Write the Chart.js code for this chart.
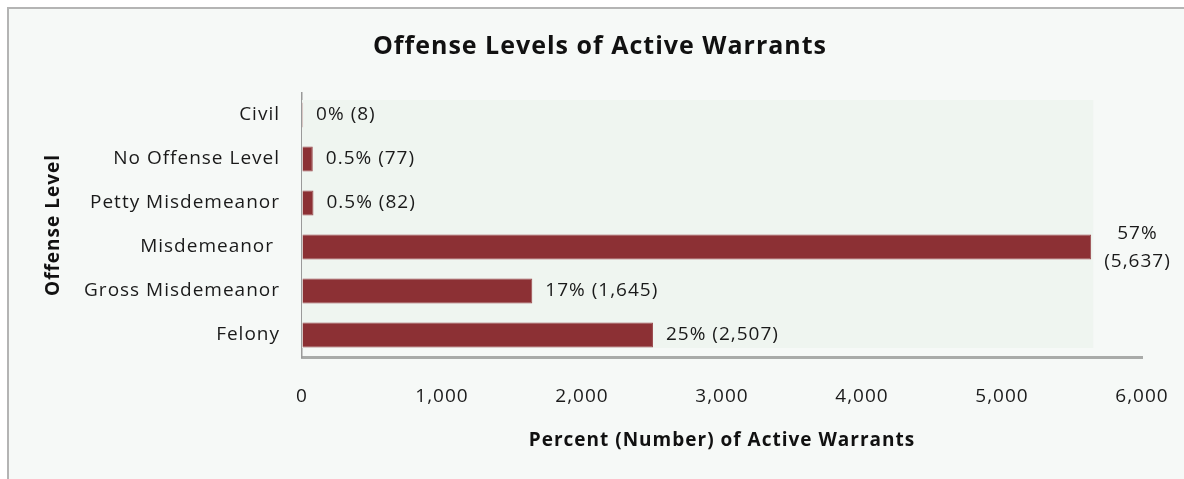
<!DOCTYPE html>
<html>
<head>
<meta charset="utf-8">
<title>Offense Levels of Active Warrants</title>
<script src="https://cdn.jsdelivr.net/npm/chart.js@4/dist/chart.umd.min.js"></script>
<style>
  html, body { margin: 0; padding: 0; background: #ffffff; }
  #wrap { width: 1184px; height: 479px; }
</style>
</head>
<body>
<div id="wrap"><canvas id="warrantChart" width="1184" height="479"></canvas></div>
<script>
// Dados
const categories = ['Civil', 'No Offense Level', 'Petty Misdemeanor', 'Misdemeanor ', 'Gross Misdemeanor', 'Felony'];
const warrantCounts = [8, 77, 82, 5637, 1645, 2507];
const percentLabels = ['0%', '0.5%', '0.5%', '57%', '17%', '25%'];
const xMin = 0;
const xMax = 6000;
const xStep = 1000;

const FONT = "'Open Sans', 'DejaVu Sans', sans-serif";
const TEXT = '#1a1a1a';

// espaçamento entre letras um pouco maior (fonte original é mais larga)
const spacingPlugin = {
    id: 'spacing',
    beforeLayout(chart) { chart.ctx.letterSpacing = '1px'; },
    beforeDraw(chart) { chart.ctx.letterSpacing = '1px'; }
};

// fundo com moldura cinza
const framePlugin = {
    id: 'frame',
    beforeDraw(chart) {
        const { ctx, width, height } = chart;
        ctx.save();
        ctx.fillStyle = '#ffffff';
        ctx.fillRect(0, 0, width, height);
        ctx.fillStyle = '#f6f9f7';
        ctx.fillRect(8, 8, width, height);
        ctx.strokeStyle = '#b4b4b4';
        ctx.lineWidth = 2;
        ctx.beginPath();
        ctx.moveTo(8, height + 2);
        ctx.lineTo(8, 8);
        ctx.lineTo(width + 2, 8);
        ctx.stroke();
        ctx.restore();
    },
    beforeDatasetsDraw(chart) {
        // painel interno levemente mais escuro
        const { ctx, chartArea: a } = chart;
        ctx.save();
        ctx.fillStyle = '#eff5f0';
        ctx.fillRect(a.left, a.top + 7, a.width * 0.942, a.height - 16);
        ctx.restore();
    }
};

// rótulos "percentual (número)" após cada barra
const valueLabels = {
    id: 'valueLabels',
    afterDatasetsDraw(chart) {
        const { ctx } = chart;
        const bars = chart.getDatasetMeta(0).data;
        ctx.save();
        ctx.font = '19px ' + FONT;
        ctx.fillStyle = TEXT;
        ctx.textBaseline = 'middle';
        bars.forEach((bar, i) => {
            const count = warrantCounts[i].toLocaleString('en-US');
            const oneLine = percentLabels[i] + ' (' + count + ')';
            const x = bar.x + 13;
            if (x + ctx.measureText(oneLine).width < chart.width - 4) {
                ctx.textAlign = 'left';
                ctx.fillText(oneLine, x, bar.y);
            } else {
                // não cabe: quebra em duas linhas centralizadas
                const lines = [percentLabels[i], '(' + count + ')'];
                const w = Math.max(...lines.map(l => ctx.measureText(l).width));
                ctx.textAlign = 'center';
                ctx.fillText(lines[0], x + w / 2, bar.y - 13);
                ctx.fillText(lines[1], x + w / 2, bar.y + 15);
            }
        });
        ctx.restore();
    }
};

const ctx = document.getElementById('warrantChart').getContext('2d');
new Chart(ctx, {
    type: 'bar',
    data: {
        labels: categories,
        datasets: [{
            label: 'Active Warrants',
            data: warrantCounts,
            backgroundColor: '#8c3034',
            borderColor: '#9a4a4d',
            borderWidth: 1,
            borderSkipped: 'start',
            barPercentage: 1,
            categoryPercentage: 0.57
        }]
    },
    options: {
        indexAxis: 'y',
        responsive: false,
        animation: false,
        layout: { padding: { left: 58, right: 42, top: 0, bottom: 0 } },
        plugins: {
            legend: { display: false },
            tooltip: { enabled: false },
            title: {
                display: true,
                text: 'Offense Levels of Active Warrants',
                color: '#111111',
                font: { family: FONT, size: 25, weight: 'bold' },
                padding: { top: 32, bottom: 31 }
            }
        },
        scales: {
            x: {
                min: xMin,
                max: xMax,
                // marcas invisíveis só para afastar os rótulos do eixo
                grid: { display: true, color: 'rgba(0,0,0,0)', drawTicks: true, tickLength: 28 },
                border: { display: true, color: '#a9aba9', width: 3 },
                ticks: {
                    stepSize: xStep,
                    padding: 0,
                    color: TEXT,
                    font: { family: FONT, size: 19 },
                    callback: v => v.toLocaleString('en-US')
                },
                title: {
                    display: true,
                    text: 'Percent (Number) of Active Warrants',
                    color: '#111111',
                    font: { family: FONT, size: 19, weight: 'bold' },
                    padding: { top: 0, bottom: 26.6 }
                },
                afterFit(scale) { scale.height = 122; }
            },
            y: {
                grid: { display: false, drawTicks: false },
                border: { display: true, color: '#9a9a9a', width: 1.5 },
                ticks: {
                    padding: 22,
                    color: TEXT,
                    font: { family: FONT, size: 19 }
                },
                title: {
                    display: true,
                    text: 'Offense Level',
                    color: '#111111',
                    font: { family: FONT, size: 19, weight: 'bold' },
                    padding: { top: -16, bottom: 0 }
                },
                afterFit(scale) { scale.width = 244; }
            }
        }
    },
    plugins: [spacingPlugin, framePlugin, valueLabels]
});
</script>
</body>
</html>
